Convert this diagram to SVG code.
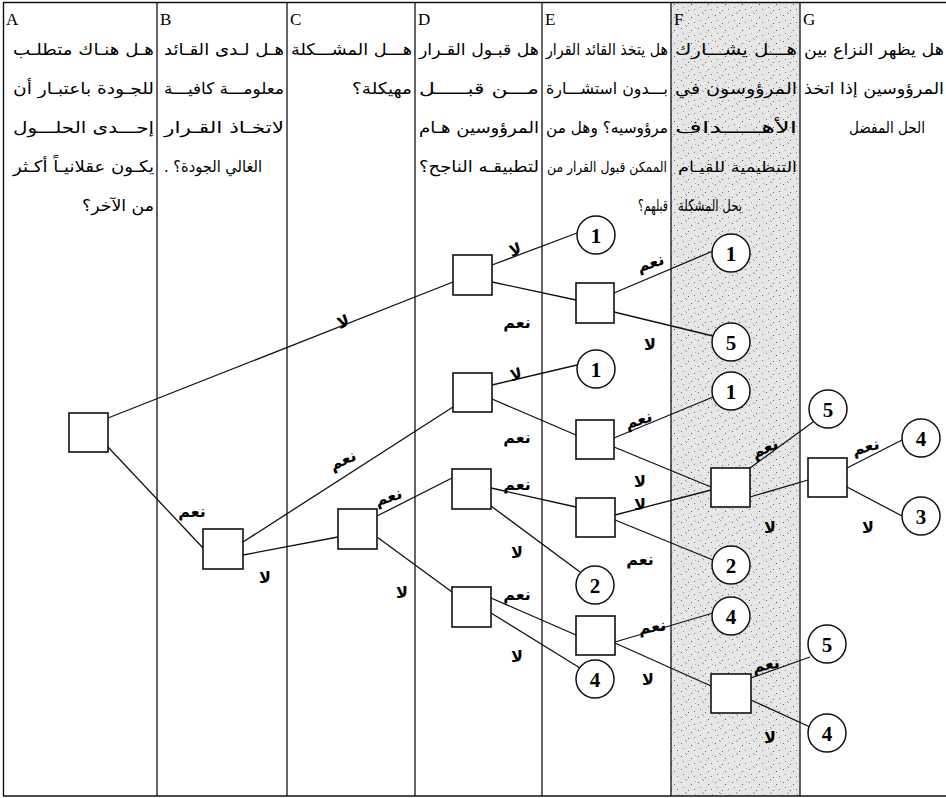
<svg xmlns="http://www.w3.org/2000/svg" width="946" height="798" viewBox="0 0 946 798">
<defs>
<pattern id="stip" width="17" height="13" patternUnits="userSpaceOnUse">
<rect width="17" height="13" fill="#e6e6e6"/>
<rect x="1" y="2" width="1" height="1" fill="#666"/>
<rect x="6" y="0" width="1" height="1" fill="#999"/>
<rect x="11" y="4" width="1" height="1" fill="#555"/>
<rect x="3" y="7" width="1" height="1" fill="#888"/>
<rect x="14" y="9" width="1" height="1" fill="#777"/>
<rect x="8" y="10" width="1" height="1" fill="#666"/>
<rect x="15" y="1" width="1" height="1" fill="#aaa"/>
<rect x="5" y="12" width="1" height="1" fill="#999"/>
<rect x="9" y="6" width="1" height="1" fill="#bbb"/>
</pattern>
<style>
.frame{stroke:#111;stroke-width:1.4;fill:none}
.div{stroke:#111;stroke-width:1.3}
.colid{font-family:"Liberation Serif",serif;font-size:17px;fill:#000}
.hdr{font-family:"DejaVu Sans",sans-serif;font-size:16px;fill:#000;text-anchor:end}
.sm{font-size:14px}
.rtl{direction:rtl;text-anchor:start}
.sq{fill:#fff;stroke:#111;stroke-width:1.6}
.cir{fill:#fff;stroke:#111;stroke-width:1.5}
.num{font-family:"Liberation Serif",serif;font-weight:bold;font-size:21px;text-anchor:middle;fill:#000}
.edge{stroke:#111;stroke-width:1.3;fill:none}
.lbl{font-family:"DejaVu Sans",sans-serif;font-weight:bold;font-size:16px;text-anchor:middle;fill:#000}
</style>
</defs>
<rect width="946" height="798" fill="#fff"/>
<rect x="671" y="3" width="129" height="793" fill="url(#stip)"/>
<g id="grid">
<line class="frame" x1="3" y1="2.5" x2="946" y2="2.5"/>
<line class="frame" x1="3" y1="796" x2="946" y2="796"/>
<line class="frame" x1="3.5" y1="2" x2="3.5" y2="796"/>
<line class="div" x1="157" y1="2" x2="157" y2="796"/>
<line class="div" x1="287" y1="2" x2="287" y2="796"/>
<line class="div" x1="415" y1="2" x2="415" y2="796"/>
<line class="div" x1="542" y1="2" x2="542" y2="796"/>
<line class="div" x1="671" y1="2" x2="671" y2="796"/>
<line class="div" x1="800" y1="2" x2="800" y2="796"/>
</g>
<g id="header">
<text class="colid" x="6" y="25">A</text>
<text class="colid" x="160" y="25">B</text>
<text class="colid" x="290" y="25">C</text>
<text class="colid" x="418" y="25">D</text>
<text class="colid" x="545" y="25">E</text>
<text class="colid" x="674" y="25">F</text>
<text class="colid" x="803" y="25">G</text>

<text class="hdr" x="154" y="55" textLength="141" lengthAdjust="spacingAndGlyphs">هـل هنـاك متطلـب</text>
<text class="hdr" x="154" y="94" textLength="141" lengthAdjust="spacingAndGlyphs">للجـودة باعتبـار أن</text>
<text class="hdr" x="154" y="133" textLength="141" lengthAdjust="spacingAndGlyphs">إحـــدى الحلـــول</text>
<text class="hdr" x="154" y="172" textLength="141" lengthAdjust="spacingAndGlyphs">يكـون عقلانيـاً أكـثر</text>
<text class="hdr" x="154" y="211" textLength="72" lengthAdjust="spacingAndGlyphs">من الآخر؟</text>

<text class="hdr" x="284" y="55" textLength="120" lengthAdjust="spacingAndGlyphs">هـل لـدى القـائد</text>
<text class="hdr" x="284" y="94" textLength="120" lengthAdjust="spacingAndGlyphs">معلومـــة كافيـــة</text>
<text class="hdr" x="284" y="133" textLength="120" lengthAdjust="spacingAndGlyphs">لاتخـاذ القـرار</text>
<text class="hdr rtl" x="262" y="172" textLength="98" lengthAdjust="spacingAndGlyphs">الغالي الجودة؟ .</text>

<text class="hdr" x="412" y="55" textLength="121" lengthAdjust="spacingAndGlyphs">هـــل المشـــكلة</text>
<text class="hdr" x="412" y="94" textLength="60" lengthAdjust="spacingAndGlyphs">مهيكلة؟</text>

<text class="hdr" x="539" y="55" textLength="120" lengthAdjust="spacingAndGlyphs">هل قبـول القـرار</text>
<text class="hdr" x="539" y="94" textLength="120" lengthAdjust="spacingAndGlyphs">مـــن قبـــــل</text>
<text class="hdr" x="539" y="133" textLength="120" lengthAdjust="spacingAndGlyphs">المرؤوسين هـام</text>
<text class="hdr" x="539" y="172" textLength="120" lengthAdjust="spacingAndGlyphs">لتطبيقـه الناجح؟</text>

<text class="hdr" x="668" y="55" textLength="122" lengthAdjust="spacingAndGlyphs">هل يتخذ القائد القرار</text>
<text class="hdr" x="668" y="94" textLength="122" lengthAdjust="spacingAndGlyphs">بـــدون استشـــارة</text>
<text class="hdr" x="668" y="133" textLength="122" lengthAdjust="spacingAndGlyphs">مرؤوسيه؟ وهل من</text>
<text class="hdr sm" x="667" y="172" textLength="120" lengthAdjust="spacingAndGlyphs">الممكن قبول القرار من</text>
<text class="hdr" x="668" y="211" textLength="30" lengthAdjust="spacingAndGlyphs">قبلهم؟</text>

<text class="hdr" x="797" y="55" textLength="122" lengthAdjust="spacingAndGlyphs">هـــل يشـــارك</text>
<text class="hdr" x="797" y="94" textLength="122" lengthAdjust="spacingAndGlyphs">المرؤوسون في</text>
<text class="hdr" x="797" y="133" textLength="122" lengthAdjust="spacingAndGlyphs">الأهـــــداف</text>
<text class="hdr sm" x="797" y="172" textLength="119" lengthAdjust="spacingAndGlyphs">التنظيمية للقيـام</text>
<text class="hdr" x="742" y="211" textLength="64" lengthAdjust="spacingAndGlyphs">بحل المشكلة</text>

<text class="hdr" x="944" y="55" textLength="140" lengthAdjust="spacingAndGlyphs">هل يظهر النزاع بين</text>
<text class="hdr" x="944" y="94" textLength="140" lengthAdjust="spacingAndGlyphs">المرؤوسين إذا اتخذ</text>
<text class="hdr" x="925" y="133" textLength="76" lengthAdjust="spacingAndGlyphs">الحل المفضل</text>
</g>

<g id="connectors">
<line class="edge" x1="108" y1="418" x2="453" y2="282"/>
<line class="edge" x1="108" y1="447" x2="203" y2="548"/>
<line class="edge" x1="243" y1="542" x2="453" y2="407"/>
<line class="edge" x1="243" y1="555" x2="338" y2="537"/>
<line class="edge" x1="377" y1="516" x2="452" y2="478"/>
<line class="edge" x1="377" y1="537" x2="452" y2="592"/>
<line class="edge" x1="492" y1="265" x2="577" y2="233"/>
<line class="edge" x1="492" y1="282" x2="576" y2="300"/>
<line class="edge" x1="614" y1="293" x2="713" y2="251"/>
<line class="edge" x1="614" y1="312" x2="713" y2="336"/>
<line class="edge" x1="492" y1="385" x2="577" y2="365"/>
<line class="edge" x1="492" y1="399" x2="576" y2="435"/>
<line class="edge" x1="614" y1="438" x2="713" y2="397"/>
<line class="edge" x1="614" y1="447" x2="711" y2="487"/>
<line class="edge" x1="491" y1="488" x2="576" y2="507"/>
<line class="edge" x1="491" y1="506" x2="580" y2="572"/>
<line class="edge" x1="615" y1="515" x2="711" y2="490"/>
<line class="edge" x1="615" y1="520" x2="713" y2="560"/>
<line class="edge" x1="750" y1="468" x2="813" y2="422"/>
<line class="edge" x1="750" y1="497" x2="808" y2="480"/>
<line class="edge" x1="847" y1="468" x2="904" y2="439"/>
<line class="edge" x1="847" y1="487" x2="904" y2="517"/>
<line class="edge" x1="491" y1="598" x2="576" y2="635"/>
<line class="edge" x1="491" y1="613" x2="580" y2="668"/>
<line class="edge" x1="615" y1="642" x2="713" y2="613"/>
<line class="edge" x1="615" y1="643" x2="711" y2="686"/>
<line class="edge" x1="751" y1="678" x2="810" y2="657"/>
<line class="edge" x1="751" y1="700" x2="810" y2="727"/>
</g>

<g id="edge-labels">
<text class="lbl" transform="translate(345,327) rotate(-20)">لا</text>
<text class="lbl" x="192" y="517">نعم</text>
<text class="lbl" transform="translate(345,465) rotate(-25)">نعم</text>
<text class="lbl" x="265" y="583">لا</text>
<text class="lbl" transform="translate(390,502) rotate(-18)">نعم</text>
<text class="lbl" x="402" y="598">لا</text>
<text class="lbl" transform="translate(517,255) rotate(-18)">لا</text>
<text class="lbl" x="517" y="328">نعم</text>
<text class="lbl" transform="translate(652,268) rotate(-18)">نعم</text>
<text class="lbl" x="650" y="350">لا</text>
<text class="lbl" transform="translate(517,380) rotate(-12)">لا</text>
<text class="lbl" x="517" y="443">نعم</text>
<text class="lbl" transform="translate(640,425) rotate(-18)">نعم</text>
<text class="lbl" x="640" y="487">لا</text>
<text class="lbl" x="640" y="510">لا</text>
<text class="lbl" x="517" y="490">نعم</text>
<text class="lbl" x="517" y="558">لا</text>
<text class="lbl" x="640" y="565">نعم</text>
<text class="lbl" transform="translate(767,453) rotate(-25)">نعم</text>
<text class="lbl" x="770" y="533">لا</text>
<text class="lbl" transform="translate(867,452) rotate(-15)">نعم</text>
<text class="lbl" x="868" y="533">لا</text>
<text class="lbl" x="517" y="600">نعم</text>
<text class="lbl" x="517" y="662">لا</text>
<text class="lbl" transform="translate(653,632) rotate(-8)">نعم</text>
<text class="lbl" x="648" y="685">لا</text>
<text class="lbl" transform="translate(767,670) rotate(-12)">نعم</text>
<text class="lbl" x="770" y="743">لا</text>
</g>

<g id="n-root"><rect class="sq" x="69" y="413" width="39" height="39"/></g>
<g id="n-B"><rect class="sq" x="203" y="529" width="40" height="40"/></g>
<g id="n-C"><rect class="sq" x="338" y="509" width="39" height="40"/></g>
<g id="n-D1"><rect class="sq" x="453" y="255" width="39" height="40"/></g>
<g id="n-D2"><rect class="sq" x="453" y="373" width="39" height="39"/></g>
<g id="n-D3"><rect class="sq" x="452" y="469" width="39" height="40"/></g>
<g id="n-D4"><rect class="sq" x="452" y="587" width="39" height="40"/></g>
<g id="n-E1"><rect class="sq" x="576" y="283" width="38" height="40"/></g>
<g id="n-E2"><rect class="sq" x="576" y="420" width="38" height="39"/></g>
<g id="n-E3"><rect class="sq" x="576" y="498" width="39" height="39"/></g>
<g id="n-E4"><rect class="sq" x="576" y="616" width="39" height="39"/></g>
<g id="n-F1"><rect class="sq" x="711" y="468" width="39" height="39"/></g>
<g id="n-F2"><rect class="sq" x="711" y="674" width="40" height="39"/></g>
<g id="n-G1"><rect class="sq" x="808" y="458" width="39" height="39"/></g>

<g id="o-E1"><circle class="cir" cx="596" cy="235" r="19"/><text class="num" x="596" y="243">1</text></g>
<g id="o-E2"><circle class="cir" cx="596" cy="369" r="19"/><text class="num" x="596" y="377">1</text></g>
<g id="o-E3"><circle class="cir" cx="595" cy="585" r="19"/><text class="num" x="595" y="593">2</text></g>
<g id="o-E4"><circle class="cir" cx="595" cy="679" r="19"/><text class="num" x="595" y="687">4</text></g>
<g id="o-F1"><circle class="cir" cx="731" cy="253" r="19"/><text class="num" x="731" y="261">1</text></g>
<g id="o-F2"><circle class="cir" cx="731" cy="342" r="19"/><text class="num" x="731" y="350">5</text></g>
<g id="o-F3"><circle class="cir" cx="731" cy="391" r="19"/><text class="num" x="731" y="399">1</text></g>
<g id="o-F4"><circle class="cir" cx="731" cy="565" r="19"/><text class="num" x="731" y="573">2</text></g>
<g id="o-F5"><circle class="cir" cx="731" cy="616" r="19"/><text class="num" x="731" y="624">4</text></g>
<g id="o-G1"><circle class="cir" cx="828" cy="409" r="19"/><text class="num" x="828" y="417">5</text></g>
<g id="o-G2"><circle class="cir" cx="827" cy="644" r="19"/><text class="num" x="827" y="652">5</text></g>
<g id="o-G3"><circle class="cir" cx="827" cy="733" r="19"/><text class="num" x="827" y="741">4</text></g>
<g id="o-H1"><circle class="cir" cx="921" cy="438" r="19"/><text class="num" x="921" y="446">4</text></g>
<g id="o-H2"><circle class="cir" cx="921" cy="516" r="19"/><text class="num" x="921" y="524">3</text></g>
</svg>
